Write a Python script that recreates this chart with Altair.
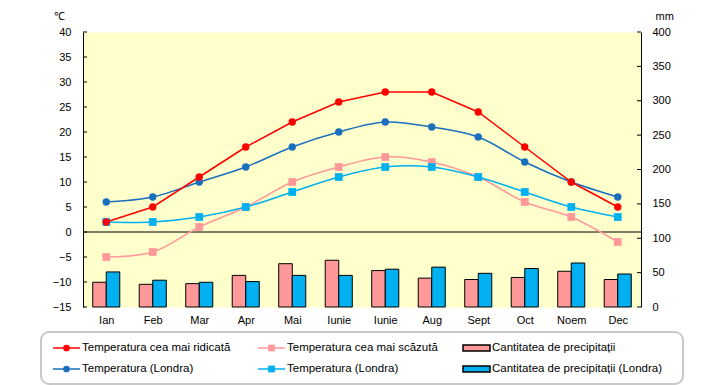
import altair as alt
import pandas as pd

# ---------------- data ----------------
months = ["Ian", "Feb", "Mar", "Apr", "Mai", "Iunie", "Iunie", "Aug", "Sept", "Oct", "Noem", "Dec"]
temp_max = [2, 5, 11, 17, 22, 26, 28, 28, 24, 17, 10, 5]
temp_min = [-5, -4, 1, 5, 10, 13, 15, 14, 11, 6, 3, -2]
temp_london_a = [6, 7, 10, 13, 17, 20, 22, 21, 19, 14, 10, 7]
temp_london_b = [2, 2, 3, 5, 8, 11, 13, 13, 11, 8, 5, 3]
precip = [36, 33, 34, 46, 63, 68, 53, 42, 40, 43, 52, 40]
precip_london = [51, 39, 36, 37, 46, 46, 55, 58, 49, 56, 64, 48]

temp_ticks = list(range(-15, 41, 5))
mm_ticks = list(range(0, 401, 50))

legend_labels = [
    "Temperatura cea mai ridicată",
    "Temperatura cea mai scăzută",
    "Cantitatea de precipitații",
    "Temperatura (Londra)",
    "Temperatura (Londra)",
    "Cantitatea de precipitații (Londra)",
]
legend_kinds = ["line", "line", "bar", "line", "line", "bar"]

FONT = "Liberation Sans"
C_RED = "#FF0000"
C_PINK = "#FF9999"
C_DBLUE = "#1A6FBF"
C_LBLUE = "#00B0F0"

label_expr = "[" + ",".join("'%s'" % m for m in months) + "][datum.value]"

X_POINT = alt.Scale(type="point", padding=0.5)
Y_TEMP = alt.Scale(domain=[-15, 40], nice=False, zero=False)
Y_MM = alt.Scale(domain=[0, 400], nice=False)

layers = []

# ---------------- precipitation bars ----------------
bar_df = pd.DataFrame({
    "idx": list(range(12)) * 2,
    "serie": ["a"] * 12 + ["b"] * 12,
    "mm": precip + precip_london,
})
bars = alt.Chart(bar_df).mark_bar(stroke="black", strokeWidth=1).encode(
    x=alt.X("idx:O", scale=alt.Scale(paddingInner=0, paddingOuter=0), axis=None),
    xOffset=alt.XOffset("serie:N", scale=alt.Scale(paddingInner=0, paddingOuter=0.72)),
    y=alt.Y("mm:Q", scale=Y_MM,
            axis=alt.Axis(orient="right", values=mm_ticks, grid=False,
                          ticks=False, tickSize=0, labelPadding=11, domainColor="black",
                          title="mm", titleAngle=0, titleX=14, titleY=-16,
                          titleAlign="left", titleBaseline="middle",
                          titleFontWeight="normal", titleFontSize=11)),
    color=alt.Color("serie:N", scale=alt.Scale(domain=["a", "b"], range=[C_PINK, C_LBLUE]), legend=None),
)
layers.append(bars)

# ---------------- inward axis ticks ----------------
layers.append(alt.Chart(pd.DataFrame({"v": temp_ticks})).mark_rule(color="black", strokeWidth=1).encode(
    y=alt.Y("v:Q", scale=Y_TEMP, axis=None), x=alt.value(0), x2=alt.value(4)
))
layers.append(alt.Chart(pd.DataFrame({"v": mm_ticks})).mark_rule(color="black", strokeWidth=1).encode(
    y=alt.Y("v:Q", scale=Y_MM, axis=None), x=alt.value(554), x2=alt.value(558)
))

# ---------------- zero line ----------------
zero = alt.Chart(pd.DataFrame({"z": [0]})).mark_rule(color="black", strokeWidth=1.2).encode(
    y=alt.Y("z:Q", scale=Y_TEMP, axis=None)
)
layers.append(zero)

# ---------------- temperature lines ----------------
series = [
    (temp_min, C_PINK, "square", "catmull-rom"),
    (temp_london_b, C_LBLUE, "square", "catmull-rom"),
    (temp_london_a, C_DBLUE, "circle", "catmull-rom"),
    (temp_max, C_RED, "circle", "linear"),
]
first = True
for vals, col, shp, interp in series:
    df = pd.DataFrame({"idx": list(range(12)), "t": vals})
    if first:
        xax = alt.Axis(labelExpr=label_expr, domain=False, ticks=False, tickSize=0,
                       labelPadding=7, labelAngle=0, title=None, grid=False)
        yax = alt.Axis(orient="left", values=temp_ticks, grid=False,
                       ticks=False, tickSize=0, labelPadding=12, domainColor="black",
                       title="℃", titleAngle=0, titleX=-30, titleY=-16,
                       titleAlign="left", titleBaseline="middle",
                       titleFontWeight="normal", titleFontSize=11)
    else:
        xax = None
        yax = None
    base = alt.Chart(df)
    line = base.mark_line(color=col, strokeWidth=1.5, interpolate=interp).encode(
        x=alt.X("idx:O", scale=X_POINT, axis=xax),
        y=alt.Y("t:Q", scale=Y_TEMP, axis=yax),
    )
    pts = base.mark_point(filled=True, color=col, shape=shp, opacity=1,
                          size=60 if shp == "square" else 55).encode(
        x=alt.X("idx:O", scale=X_POINT, axis=None),
        y=alt.Y("t:Q", scale=Y_TEMP, axis=None),
    )
    layers += [line, pts]
    first = False

# ---------------- legend ----------------
leg_df = pd.DataFrame({
    "key": list(range(len(legend_labels))),
    "label": legend_labels,
    "kind": legend_kinds,
    "col": [i % 3 for i in range(len(legend_labels))],
    "row": [i // 3 for i in range(len(legend_labels))],
})
LX = alt.Scale(domain=[0, 2], range=[-30, 380], nice=False, zero=False)
LY = alt.Scale(domain=[0, 1], range=[316, 337], nice=False, zero=False)
leg_colors = alt.Scale(domain=list(range(6)), range=[C_RED, C_PINK, C_PINK, C_DBLUE, C_LBLUE, C_LBLUE])
leg_shapes = alt.Scale(domain=list(range(6)), range=["circle", "square", "square", "circle", "square", "square"])

box = alt.Chart(pd.DataFrame({"b": [0]})).mark_rect(
    fill="white", stroke="#C8C8C8", strokeWidth=2, cornerRadius=8
).encode(x=alt.value(-42), x2=alt.value(600), y=alt.value(300), y2=alt.value(352))
layers.append(box)

leg_base = alt.Chart(leg_df)
leg_lines = leg_base.transform_filter("datum.kind == 'line'")
leg_bars = leg_base.transform_filter("datum.kind == 'bar'")

layers.append(leg_lines.mark_rule(strokeWidth=1.5, x2Offset=27).encode(
    x=alt.X("col:Q", scale=LX, axis=None), x2="col:Q",
    y=alt.Y("row:Q", scale=LY, axis=None),
    color=alt.Color("key:O", scale=leg_colors, legend=None),
))
layers.append(leg_lines.mark_point(filled=True, opacity=1, size=45, xOffset=13.5).encode(
    x=alt.X("col:Q", scale=LX, axis=None),
    y=alt.Y("row:Q", scale=LY, axis=None),
    color=alt.Color("key:O", scale=leg_colors, legend=None),
    shape=alt.Shape("key:O", scale=leg_shapes, legend=None),
))
layers.append(leg_bars.mark_rect(stroke="black", strokeWidth=1.5, x2Offset=27, yOffset=-3, y2Offset=3).encode(
    x=alt.X("col:Q", scale=LX, axis=None), x2="col:Q",
    y=alt.Y("row:Q", scale=LY, axis=None), y2="row:Q",
    color=alt.Color("key:O", scale=leg_colors, legend=None),
))
layers.append(leg_base.mark_text(align="left", baseline="middle", dx=29, fontSize=11.5, font=FONT, color="black").encode(
    x=alt.X("col:Q", scale=LX, axis=None),
    y=alt.Y("row:Q", scale=LY, axis=None),
    text="label:N",
))

chart = alt.layer(*layers).resolve_scale(
    x="independent", y="independent", color="independent", shape="independent"
).properties(
    width=558, height=275,
    background="white",
    autosize=alt.AutoSizeParams(type="none"),
    padding={"left": 75, "top": 24, "right": 71, "bottom": 78},
).configure_view(
    fill="#FFFFCC", stroke="transparent"
).configure_axis(
    labelFont=FONT, titleFont=FONT, labelFontSize=11, labelColor="black", titleColor="black"
)

chart.save("out.html", embed_options={"renderer": "svg", "actions": False})
